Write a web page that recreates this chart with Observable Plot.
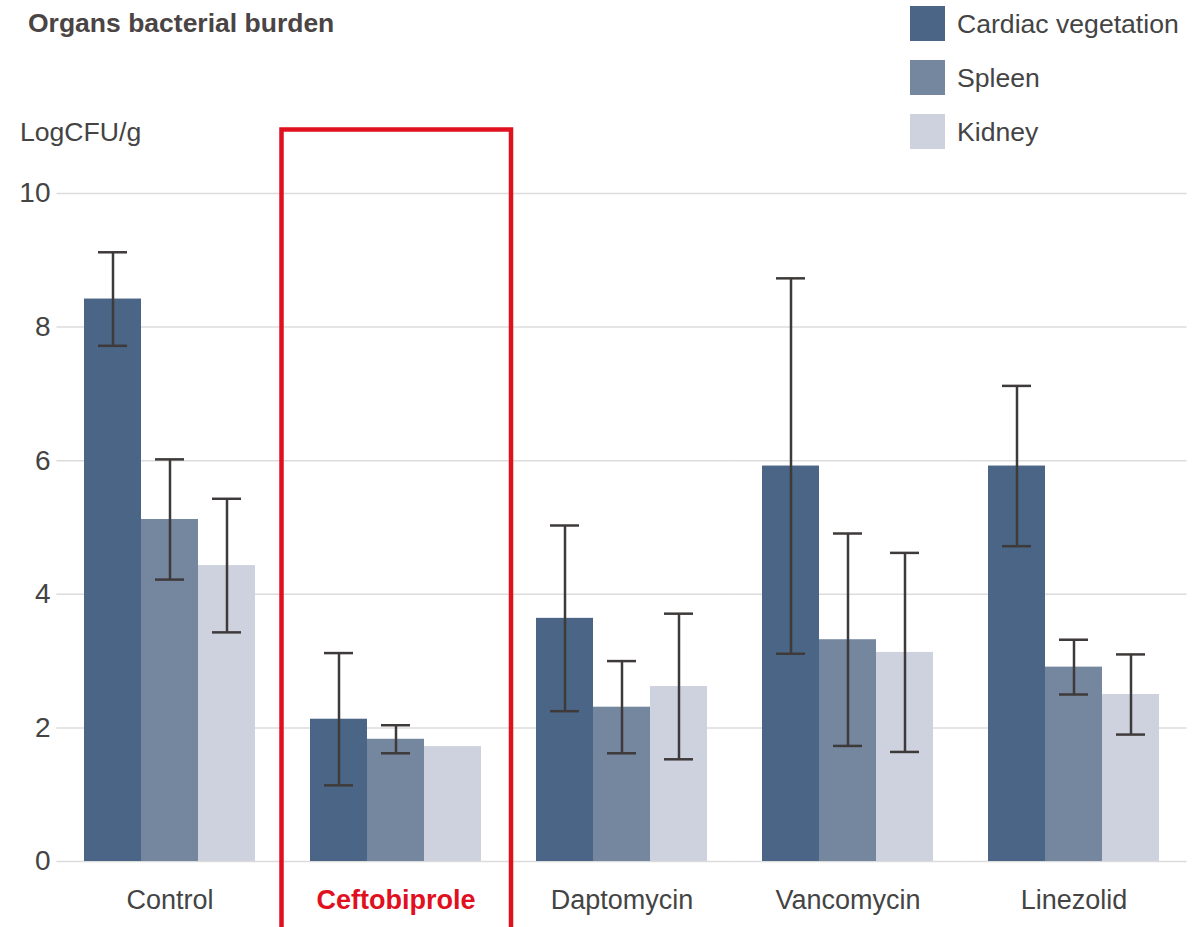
<!DOCTYPE html>
<html>
<head>
<meta charset="utf-8">
<script src="https://cdn.jsdelivr.net/npm/d3@7"></script>
<script src="https://cdn.jsdelivr.net/npm/@observablehq/plot@0.6"></script>
<style>
  body { margin: 0; background: #fff; font-family: "Liberation Sans", Arial, sans-serif; }
  #wrap { position: relative; width: 1201px; height: 927px; overflow: hidden; background: #fff; }
  #wrap svg { position: absolute; left: 0; top: 0; }
  .title { position: absolute; left: 28px; top: 10px; font-size: 26.5px; line-height: 26px; font-weight: bold; color: #4a4444; white-space: nowrap; }
  .ylab { position: absolute; left: 20px; top: 119px; font-size: 26.6px; line-height: 26px; color: #444; white-space: nowrap; }
  .legend { position: absolute; left: 910px; top: 6px; }
  .legend .row { display: flex; align-items: center; height: 35px; margin-bottom: 19px; }
  .legend .sw { width: 35px; height: 35px; margin-right: 12px; flex: none; }
  .legend .lb { font-size: 26.6px; line-height: 26px; color: #444; white-space: nowrap; }
</style>
</head>
<body>
<div id="wrap"></div>
<script>
// ---- data ----
const groups = ["Control", "Ceftobiprole", "Daptomycin", "Vancomycin", "Linezolid"];
const organs = ["Cardiac vegetation", "Spleen", "Kidney"];
const colors = ["#4a6585", "#75879f", "#ced2de"];
const cardiac    = [8.42, 2.13, 3.64, 5.92, 5.92];
const cardiacErr = [0.70, 0.99, 1.39, 2.81, 1.20];
const spleen     = [5.12, 1.83, 2.31, 3.32, 2.91];
const spleenErr  = [0.90, 0.21, 0.69, 1.59, 0.41];
const kidney     = [4.43, 1.72, 2.62, 3.13, 2.50];
const kidneyErr  = [1.00, null, 1.09, 1.49, 0.60];
const yTicks = [0, 2, 4, 6, 8, 10];
const highlight = "Ceftobiprole";
const titleText = "Organs bacterial burden";
const yLabel = "LogCFU/g";

const series = [cardiac, spleen, kidney];
const errs = [cardiacErr, spleenErr, kidneyErr];
const rows = groups.flatMap((g, i) => organs.map((o, j) => ({group: g, organ: o, value: series[j][i], err: errs[j][i]})));
const errRows = rows.filter(d => d.err != null);

const ink = "#3f3a3a";
const red = "#e0101e";
const gridExtend = -26.6; // half the gap between groups

const plot = Plot.plot({
  width: 1201,
  height: 927,
  marginTop: 193,
  marginBottom: 66,
  marginLeft: 60,
  marginRight: 19,
  style: {fontFamily: "'Liberation Sans', Arial, sans-serif", fontSize: "26px", color: "#444", background: "#fff", overflow: "visible"},
  fx: {domain: groups, paddingInner: 0.2354, paddingOuter: 0.0972, label: null},
  x: {domain: organs, padding: 0, axis: null},
  y: {domain: [0, 10], label: null},
  color: {domain: organs, range: colors},
  marks: [
    Plot.ruleY(yTicks, {stroke: "#dcdcdc", strokeWidth: 1.5, insetLeft: gridExtend, insetRight: gridExtend}),
    Plot.barY(rows, {fx: "group", x: "organ", y: "value", fill: "organ"}),
    Plot.ruleX(errRows, {fx: "group", x: "organ", y1: d => d.value - d.err, y2: d => d.value + d.err, stroke: ink, strokeWidth: 2.5}),
    Plot.tickY(errRows, {fx: "group", x: "organ", y: d => d.value - d.err, stroke: ink, strokeWidth: 2.5, insetLeft: 14, insetRight: 14}),
    Plot.tickY(errRows, {fx: "group", x: "organ", y: d => d.value + d.err, stroke: ink, strokeWidth: 2.5, insetLeft: 14, insetRight: 14}),
    Plot.axisY({ticks: yTicks, tickSize: 0, tickPadding: 33, fontSize: 28, fill: "#444"}),
    Plot.axisFx({anchor: "bottom", ticks: groups.filter(g => g !== highlight), tickSize: 0, tickPadding: 28, fontSize: 27, fill: "#444", label: null}),
    Plot.axisFx({anchor: "bottom", ticks: [highlight], tickSize: 0, tickPadding: 28, fontSize: 27, fill: red, fontWeight: "bold", label: null}),
    Plot.rect([highlight], {fx: d => d, fill: "none", stroke: red, strokeWidth: 4.5, insetTop: -63.5, insetBottom: -90, insetLeft: -27.5, insetRight: -29})
  ]
});

const wrap = document.getElementById("wrap");
wrap.appendChild(plot);

const t = document.createElement("div");
t.className = "title"; t.textContent = titleText; wrap.appendChild(t);
const yl = document.createElement("div");
yl.className = "ylab"; yl.textContent = yLabel; wrap.appendChild(yl);
const lg = document.createElement("div");
lg.className = "legend";
organs.forEach((o, i) => {
  const r = document.createElement("div"); r.className = "row";
  const s = document.createElement("div"); s.className = "sw"; s.style.background = colors[i];
  const l = document.createElement("div"); l.className = "lb"; l.textContent = o;
  r.appendChild(s); r.appendChild(l); lg.appendChild(r);
});
wrap.appendChild(lg);
</script>
</body>
</html>
